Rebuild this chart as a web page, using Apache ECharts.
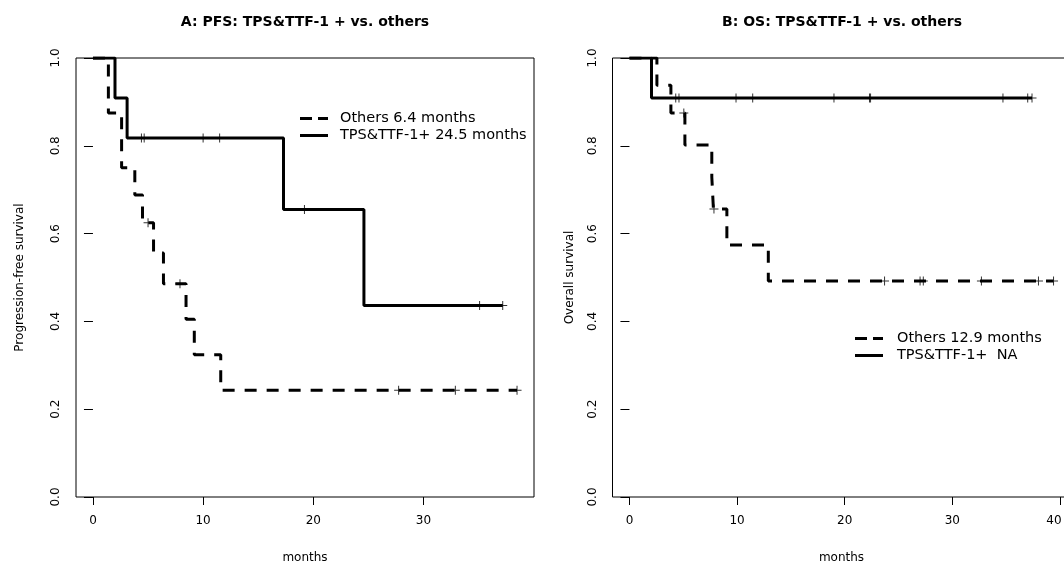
<!DOCTYPE html>
<html>
<head>
<meta charset="utf-8">
<script src="https://cdn.jsdelivr.net/npm/echarts@6/dist/echarts.min.js"></script>
<style>
  html, body { margin: 0; padding: 0; background: #fff; }
  #main { width: 1064px; height: 564px; }
</style>
</head>
<body>
<div id="main"></div>
<script type="text/javascript">
// A: PFS, others (dashed)
var pfsOthersT = [0, 1.4, 2.6, 3.8, 4.5, 5.5, 6.4, 8.45, 9.2, 11.6, 38.5];
var pfsOthersS = [1, 0.875, 0.75, 0.688, 0.625, 0.556, 0.486, 0.405, 0.324, 0.243, 0.243];
var pfsOthersCensT = [5.0, 7.9, 27.75, 32.9, 38.5];
var pfsOthersCensS = [0.625, 0.486, 0.243, 0.243, 0.243];
// A: PFS, TPS&TTF-1+ (solid)
var pfsTpsT = [0, 2.0, 3.1, 17.3, 24.6, 37.2];
var pfsTpsS = [1, 0.909, 0.818, 0.655, 0.436, 0.436];
var pfsTpsCensT = [4.4, 4.65, 10.0, 11.5, 19.2, 35.1, 37.2];
var pfsTpsCensS = [0.818, 0.818, 0.818, 0.818, 0.655, 0.436, 0.436];
// B: OS, others (dashed)
var osOthersT = [0, 2.55, 3.85, 5.15, 7.65, 7.8, 9.05, 12.9, 39.4];
var osOthersS = [1, 0.938, 0.875, 0.802, 0.729, 0.656, 0.574, 0.492, 0.492];
var osOthersCensT = [5.05, 7.85, 23.7, 27.0, 27.3, 32.7, 38.0, 39.4];
var osOthersCensS = [0.875, 0.656, 0.492, 0.492, 0.492, 0.492, 0.492, 0.492];
// B: OS, TPS&TTF-1+ (solid)
var osTpsT = [0, 2.05, 37.4];
var osTpsS = [1, 0.909, 0.909];
var osTpsCensT = [4.3, 4.6, 9.9, 11.45, 19.0, 22.3, 22.4, 34.7, 37.0, 37.4];
var osTpsCensS = [0.909, 0.909, 0.909, 0.909, 0.909, 0.909, 0.909, 0.909, 0.909, 0.909];

var xTicksA = [0, 10, 20, 30];
var xTicksB = [0, 10, 20, 30, 40];
var legendA = ['Others 6.4 months', 'TPS&TTF-1+ 24.5 months'];
var legendB = ['Others 12.9 months', 'TPS&TTF-1+  NA'];

function pairs(t, s) {
    return t.map(function (v, i) { return [v, s[i]]; });
}

var FONT = '"DejaVu Sans", Verdana, sans-serif';
var plus = 'path://M4,0h1v4h4v1h-4v4h-1v-4h-4v-1h4z';
var dashIcon = 'path://M0,0H12V3H0Z M18,0H28V3H18Z';
var solidIcon = 'path://M0,0H28V3H0Z';

function kmLine(name, idx, t, s, dashed) {
    return {
        name: name,
        type: 'line',
        step: 'end',
        xAxisIndex: idx,
        yAxisIndex: idx,
        symbol: 'none',
        silent: true,
        animation: false,
        lineStyle: { color: '#000', width: 3, type: dashed ? [12, 10] : 'solid', cap: 'butt' },
        itemStyle: { color: '#000' },
        data: pairs(t, s)
    };
}

function censor(idx, t, s) {
    return {
        type: 'scatter',
        xAxisIndex: idx,
        yAxisIndex: idx,
        symbol: plus,
        symbolSize: 9,
        silent: true,
        animation: false,
        itemStyle: { color: '#000' },
        data: pairs(t, s),
        z: 5
    };
}

function xAxis(idx, min, max, ticks) {
    return {
        type: 'value',
        gridIndex: idx,
        min: min,
        max: max,
        name: 'months',
        nameLocation: 'middle',
        nameGap: 55,
        nameTextStyle: { fontFamily: FONT, fontSize: 12, color: '#000' },
        axisLine: { show: false },
        axisTick: { show: true, length: 8, customValues: ticks, lineStyle: { color: '#000' } },
        axisLabel: {
            customValues: ticks, margin: 18, fontFamily: FONT, fontSize: 12, color: '#000',
            // keep the last label of the right panel inside the page
            formatter: function (v) { return v === 40 ? '{e|40}' : String(v); },
            rich: { e: { padding: [0, 12, 0, 0], fontFamily: FONT, fontSize: 12, color: '#000' } }
        },
        splitLine: { show: false }
    };
}

function yAxis(idx, name, gap) {
    return {
        type: 'value',
        gridIndex: idx,
        min: 0,
        max: 1,
        interval: 0.2,
        name: name,
        nameLocation: 'middle',
        nameGap: gap,
        nameTextStyle: { fontFamily: FONT, fontSize: 12, color: '#000' },
        axisLine: { show: false },
        axisTick: { show: true, length: 9, lineStyle: { color: '#000' } },
        axisLabel: {
            rotate: 90, margin: 14, fontFamily: FONT, fontSize: 12, color: '#000',
            formatter: function (v) { return v.toFixed(1); }
        },
        splitLine: { show: false }
    };
}

function legendItems(names) {
    return [
        { name: names[0], icon: dashIcon },
        { name: names[1], icon: solidIcon }
    ];
}

var myChart = echarts.init(document.getElementById('main'), null, { renderer: 'canvas' });
var option = {
    backgroundColor: '#fff',
    animation: false,
    title: [
        { text: 'A: PFS: TPS&TTF-1 + vs. others', left: 305, top: 15, textAlign: 'center', padding: 0,
          textStyle: { fontFamily: FONT, fontSize: 14, fontWeight: 'bold', color: '#000' } },
        { text: 'B: OS: TPS&TTF-1 + vs. others', left: 842, top: 15, textAlign: 'center', padding: 0,
          textStyle: { fontFamily: FONT, fontSize: 14, fontWeight: 'bold', color: '#000' } }
    ],
    legend: [
        { data: legendItems(legendA), orient: 'vertical', left: 300, top: 111, padding: 0, itemGap: 2,
          itemWidth: 28, itemHeight: 16, selectedMode: false, symbolKeepAspect: true,
          itemStyle: { color: '#000' },
          textStyle: { fontFamily: FONT, fontSize: 14.5, color: '#000', padding: [0, 0, 0, 7] } },
        { data: legendItems(legendB), orient: 'vertical', left: 855, top: 331, padding: 0, itemGap: 2,
          itemWidth: 28, itemHeight: 16, selectedMode: false, symbolKeepAspect: true,
          itemStyle: { color: '#000' },
          textStyle: { fontFamily: FONT, fontSize: 14.5, color: '#000', padding: [0, 0, 0, 9] } }
    ],
    grid: [
        { left: 76, top: 58, width: 458, height: 439, show: true, borderColor: '#000', borderWidth: 1,
          containLabel: false, outerBoundsMode: 'none' },
        { left: 612.5, top: 58, width: 458, height: 439, show: true, borderColor: '#000', borderWidth: 1,
          containLabel: false, outerBoundsMode: 'none' }
    ],
    xAxis: [
        xAxis(0, -1.54, 40.04, xTicksA),
        xAxis(1, -1.576, 40.976, xTicksB)
    ],
    yAxis: [
        yAxis(0, 'Progression-free survival', 50),
        yAxis(1, 'Overall survival', 37)
    ],
    series: [
        kmLine(legendA[0], 0, pfsOthersT, pfsOthersS, true),
        kmLine(legendA[1], 0, pfsTpsT, pfsTpsS, false),
        censor(0, pfsOthersCensT, pfsOthersCensS),
        censor(0, pfsTpsCensT, pfsTpsCensS),
        kmLine(legendB[0], 1, osOthersT, osOthersS, true),
        kmLine(legendB[1], 1, osTpsT, osTpsS, false),
        censor(1, osOthersCensT, osOthersCensS),
        censor(1, osTpsCensT, osTpsCensS)
    ]
};
myChart.setOption(option);
</script>
</body>
</html>
